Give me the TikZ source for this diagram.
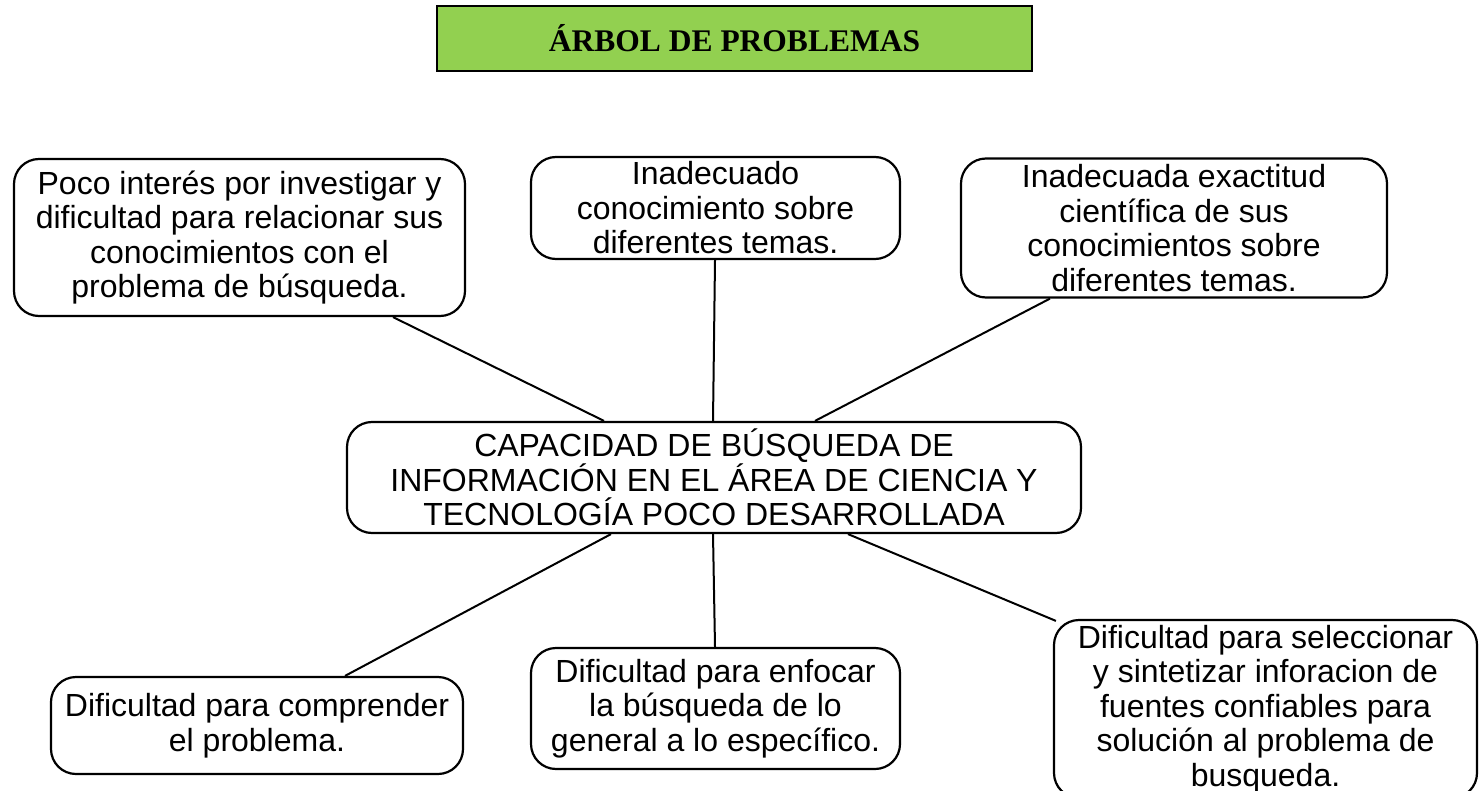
\documentclass[tikz,border=0pt]{standalone}
\usepackage{fontspec}
\setmainfont{Liberation Sans}
\newfontfamily\titlefont{Liberation Serif}
\usetikzlibrary{calc}
\definecolor{titlegreen}{HTML}{92D050}
\begin{document}
\begin{tikzpicture}[x=1pt,y=-1pt]
\tikzset{
  box/.style={draw, line width=2.2pt, rounded corners=25pt, align=center, inner sep=0pt,
    font=\fontsize{32}{34.5}\selectfont},
  link/.style={line width=2pt},
  titlebox/.style={draw, line width=1.6pt, fill=titlegreen, inner sep=0pt,
    font=\titlefont\bfseries\fontsize{31.5}{34}\selectfont}
}
\useasboundingbox (0,0) rectangle (1479,791);
\node[titlebox, minimum width=595pt, minimum height=65pt] (t) at (734.5,38.5) {ÁRBOL DE PROBLEMAS};

\node[box, minimum width=451pt, minimum height=157pt] (b1) at (239.5,237.5)
  {Poco interés por investigar y\\dificultad para relacionar sus\\conocimientos con el\\problema de búsqueda.};
\node[box, minimum width=369pt, minimum height=102pt] (b2) at (715.5,208)
  {Inadecuado\\conocimiento sobre\\diferentes temas.};
\node[box, minimum width=426pt, minimum height=139pt] (b3) at (1174,228)
  {Inadecuada exactitud\\científica de sus\\conocimientos sobre\\diferentes temas.};
\node[box, minimum width=734pt, minimum height=111pt] (c) at (714,477.5)
  {CAPACIDAD DE BÚSQUEDA DE\\INFORMACIÓN EN EL ÁREA DE CIENCIA Y\\TECNOLOGÍA POCO DESARROLLADA};
\node[box, minimum width=412pt, minimum height=97pt] (b4) at (257,725.5)
  {Dificultad para comprender\\el problema.};
\node[box, minimum width=369pt, minimum height=121pt] (b5) at (715.5,708.5)
  {Dificultad para enfocar\\la búsqueda de lo\\general a lo específico.};
\node[box, minimum width=423pt, minimum height=178pt] (b6) at (1265.5,709)
  {Dificultad para seleccionar\\y sintetizar inforacion de\\fuentes confiables para\\solución al problema de\\busqueda.};

\draw[link] ([xshift=153.5pt]b1.south) -- ([xshift=-110pt]c.north);
\draw[link] ([xshift=-0.5pt]b2.south) -- ([xshift=-1pt]c.north);
\draw[link] ([xshift=-124pt]b3.south) -- ([xshift=101pt]c.north);
\draw[link] ([xshift=-103pt]c.south) -- ([xshift=88pt]b4.north);
\draw[link] ([xshift=-1pt]c.south) -- ([xshift=-0.5pt]b5.north);
\draw[link] ([xshift=134pt]c.south) -- ([xshift=3pt,yshift=-2pt]b6.north west);
\end{tikzpicture}
\end{document}
